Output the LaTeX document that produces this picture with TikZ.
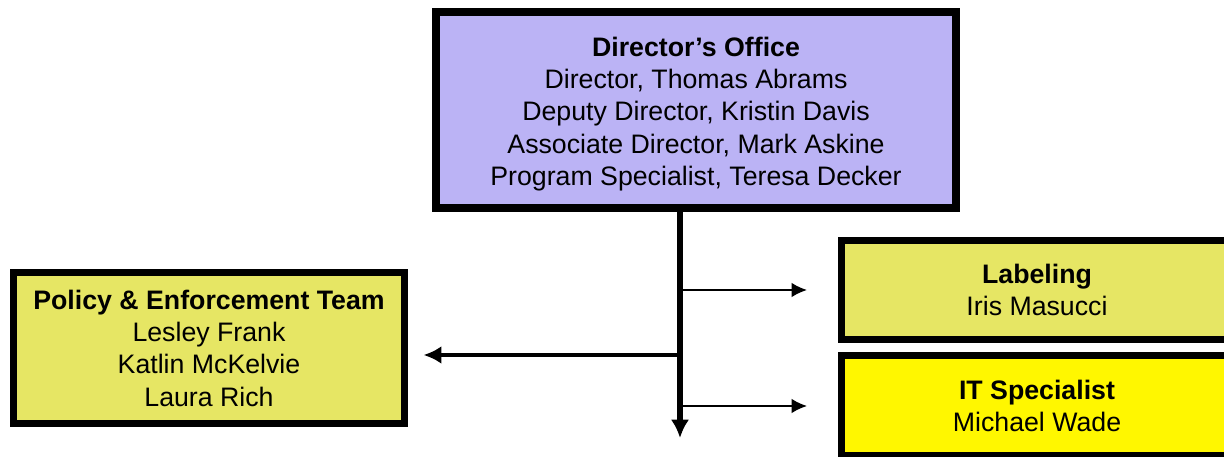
\documentclass[tikz,border=0pt]{standalone}
\usepackage{fontspec}
\setmainfont{Liberation Sans}
\usetikzlibrary{arrows.meta, positioning}

\definecolor{officeblue}{RGB}{187,179,245}
\definecolor{teamgreen}{RGB}{230,230,100}
\definecolor{itgold}{RGB}{255,247,0}

\tikzset{
  unitbox/.style={draw=black, line width=5pt, align=center, inner sep=0pt,
    font=\fontsize{19}{23}\selectfont},
  trunkline/.style={line width=4.2pt, -{Latex[length=13pt,width=13pt]}},
  branch/.style={line width=1.4pt, -{Latex[length=11pt,width=10.5pt]}},
}

\begin{document}
\begin{tikzpicture}[x=0.025cm, y=-0.025cm]
  \useasboundingbox (0,0) rectangle (1224,457);
  \clip (0,0) rectangle (1224,457);

  % boxes
  \node[unitbox, line width=5.7pt, fill=officeblue, minimum width=13cm, minimum height=4.9cm]
    (office) at (696,110)
    {\rule{0pt}{19.5pt}\textbf{Director’s Office}\\ Director, Thomas Abrams\\ Deputy Director, Kristin Davis\\
     Associate Director, Mark Askine\\ Program Specialist, Teresa Decker};
  \node[unitbox, fill=teamgreen, minimum width=9.775cm, minimum height=3.775cm]
    (policy) at (209,348)
    {\textbf{Policy \& Enforcement Team}\\ Lesley Frank\\ Katlin McKelvie\\ Laura Rich};
  \node[unitbox, fill=teamgreen, minimum width=9.775cm, minimum height=2.475cm]
    (labeling) at (1037,290) {\textbf{Labeling}\\ Iris Masucci};
  \node[unitbox, fill=itgold, minimum width=9.775cm, minimum height=2.5cm]
    (it) at (1037,406) {\textbf{IT Specialist}\\ Michael Wade};

  % connectors
  \coordinate (top) at (680,208);
  \coordinate (bottom) at (680,438);
  \coordinate (split) at (680,355);
  \draw[trunkline] (top) -- (bottom);
  \draw[line width=2.8pt, -{Latex[length=12.7pt,width=12.7pt]}, shorten >=11pt]
    (split) -- (split -| policy.east);
  \draw[branch, shorten >=22pt] (top |- labeling) -- (labeling.west);
  \draw[branch, shorten >=22pt] (top |- it) -- (it.west);
\end{tikzpicture}
\end{document}
